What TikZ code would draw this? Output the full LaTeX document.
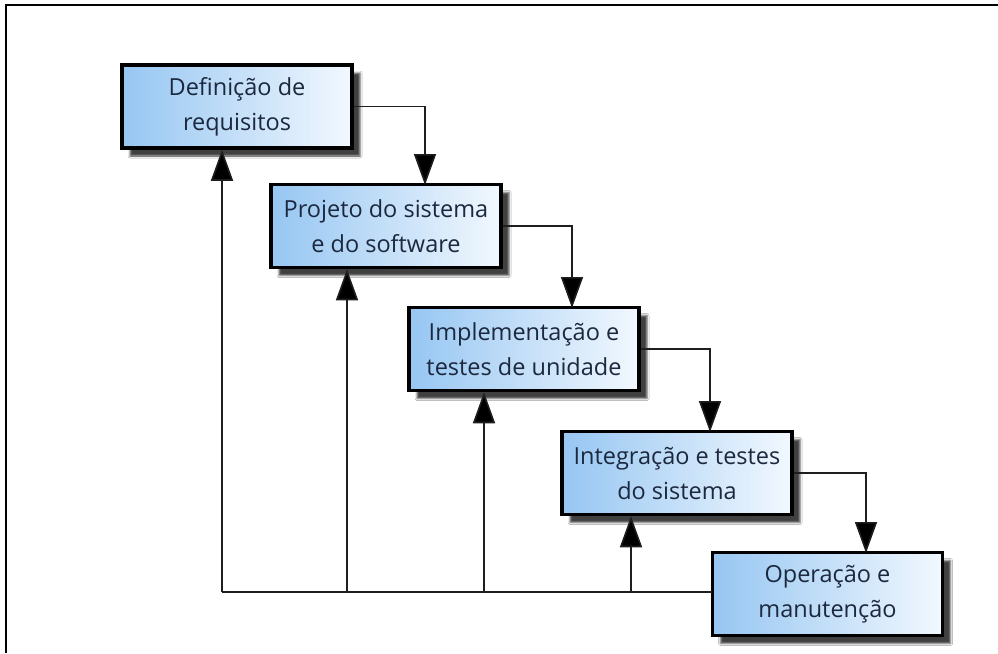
\documentclass[tikz,border=0pt]{standalone}
\usepackage{fontspec}
\setmainfont{Open Sans}
\usetikzlibrary{arrows.meta,shadows.blur}
\definecolor{boxleft}{RGB}{150,198,242}
\definecolor{boxmid}{RGB}{196,224,249}
\definecolor{boxright}{RGB}{242,248,254}
\definecolor{labeltext}{RGB}{28,40,62}
\definecolor{linkgray}{RGB}{30,30,30}
\tikzset{
  phase/.style={draw=black, line width=3.5pt, left color=boxleft, middle color=boxmid, right color=boxright,
    minimum width=230pt, minimum height=83pt, inner sep=0pt, align=center,
    text=labeltext, font=\fontsize{23.5}{35}\selectfont,
    blur shadow={shadow xshift=8pt, shadow yshift=-8pt, shadow blur steps=3,
      shadow blur extra rounding=0pt, shadow blur radius=2pt, shadow opacity=75}},
  flow/.style={draw=linkgray, line width=1.6pt, -{Triangle[width=22pt,length=31pt,fill=black]}},
  plain/.style={draw=linkgray, line width=1.6pt}
}
\begin{document}
\begin{tikzpicture}[x=1pt,y=-1pt]
\useasboundingbox (0,0) rectangle (998,653);
\fill[white] (0,0) rectangle (998,653);
% frame edges
\draw[line width=2.5pt] (6,653) -- (6,5) -- (998,5);

\node[phase] (b1) at (237,106.5) {Definição de\\requisitos};
\node[phase] (b2) at (386,226) {Projeto do sistema\\e do software};
\node[phase] (b3) at (524,349) {Implementação e\\testes de unidade};
\node[phase] (b4) at (677,473) {Integração e testes\\do sistema};
\node[phase] (b5) at (827.5,594) {Operação e\\manutenção};

% forward flow
\coordinate (k1) at (425,185);
\coordinate (k2) at (572,308);
\coordinate (k3) at (710,432);
\coordinate (k4) at (866,553);
\draw[flow] (b1.east) -| (k1);
\draw[flow] (b2.east) -| (k2);
\draw[flow] (b3.east) -| (k3);
\draw[flow] (b4.east) -| (k4);

% feedback paths
\coordinate (r1) at (222,592);
\coordinate (r2) at (347,592);
\coordinate (r3) at (484,592);
\coordinate (r4) at (631,592);
\coordinate (r5) at (712,592);
\draw[plain] (r1) -- (r5);
\draw[flow] (r1) -- (r1 |- b1.south);
\draw[flow] (r2) -- (r2 |- b2.south);
\draw[flow] (r3) -- (r3 |- b3.south);
\draw[flow] (r4) -- (r4 |- b4.south);
\end{tikzpicture}
\end{document}
